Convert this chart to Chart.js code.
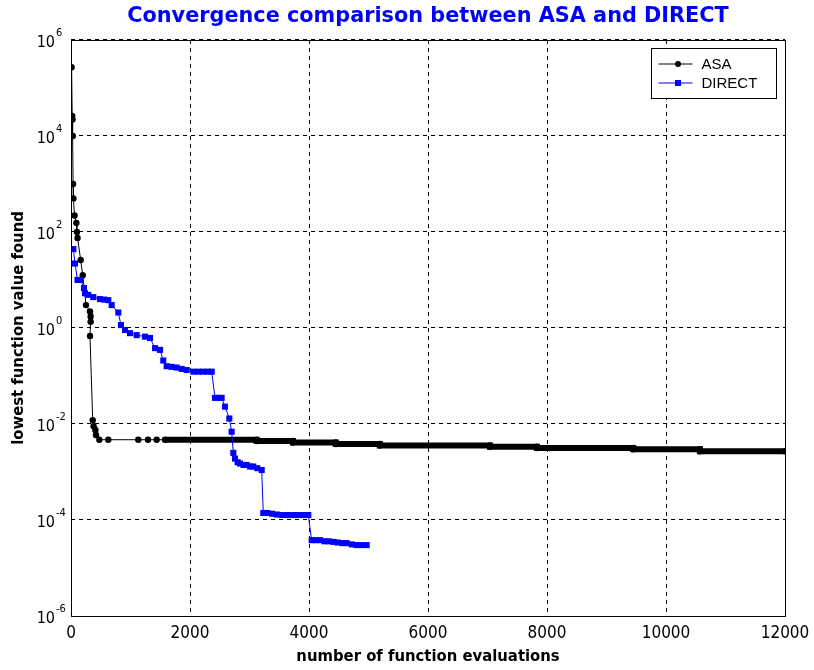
<!DOCTYPE html>
<html>
<head>
<meta charset="utf-8">
<title>Convergence comparison between ASA and DIRECT</title>
<script src="https://cdn.jsdelivr.net/npm/chart.js@4.4.1/dist/chart.umd.min.js"></script>
<style>
  html, body { margin: 0; padding: 0; background: #fff; }
  canvas { display: block; }
</style>
</head>
<body>
<canvas id="convergence-chart" width="814" height="670"></canvas>
<script>
const NARROW = "'DejaVu Sans Condensed', 'Liberation Sans', sans-serif";
const SANS = "'Liberation Sans', Arial, sans-serif";
const WIDE = "'DejaVu Sans', Verdana, sans-serif";

// ASA: evaluations vs lowest value found
const asaEvals = [10, 20, 25, 30, 35, 40, 60, 90, 100, 110, 163, 197, 252, 319, 330, 330, 319,
  365, 380, 410, 420, 476, 627, 1131, 1294, 1440, 1580, 3120, 3120, 3730, 3730, 4450, 4450,
  5190, 5190, 7040, 7040, 7830, 7830, 9450, 9450, 10570, 10570, 12000];
const asaValues = [2.7e5, 2.6e4, 2.2e4, 1.0e4, 1000, 500, 220, 155, 100, 75, 26, 12.6, 3.0, 2.2, 1.74, 1.35, 0.68,
  0.012, 0.009, 0.0075, 0.0059, 0.0047, 0.0047, 0.0047, 0.0047, 0.0047, 0.0047, 0.0047, 0.00443, 0.00443, 0.00412, 0.00412, 0.00383,
  0.00383, 0.00356, 0.00356, 0.00336, 0.00336, 0.00316, 0.00316, 0.00297, 0.00297, 0.0027, 0.0027];

// DIRECT: evaluations vs lowest value found
const directEvals = [40, 67, 110, 160, 218, 235, 290, 375, 487, 560, 627, 684, 795, 840, 908, 992, 1104,
  1244, 1328, 1412, 1496, 1551, 1608, 1690, 1776, 1860, 1944, 2056, 2140, 2220, 2300, 2365,
  2420, 2480, 2532, 2588, 2661, 2700, 2728, 2756, 2800, 2840, 2900, 2952, 3010, 3064, 3130, 3205,
  3232, 3300, 3380, 3460, 3540, 3625, 3700, 3780, 3860, 3930, 3988,
  4045, 4110, 4185, 4260, 4330, 4409, 4480, 4560, 4633, 4720, 4800, 4880, 4969];
const directValues = [44, 22, 10, 10, 6.8, 5.3, 4.9, 4.4, 4.0, 3.9, 3.8, 3.0, 2.1, 1.15, 0.91, 0.78, 0.71,
  0.66, 0.62, 0.38, 0.35, 0.21, 0.16, 0.155, 0.15, 0.14, 0.133, 0.123, 0.123, 0.123, 0.123, 0.123,
  0.035, 0.035, 0.035, 0.023, 0.013, 0.0069, 0.0025, 0.0019, 0.0016, 0.0015, 0.0014, 0.0014, 0.0013, 0.0013, 0.0012, 0.0011,
  1.4e-4, 1.4e-4, 1.35e-4, 1.3e-4, 1.27e-4, 1.27e-4, 1.27e-4, 1.27e-4, 1.27e-4, 1.27e-4, 1.27e-4,
  3.8e-5, 3.8e-5, 3.8e-5, 3.6e-5, 3.6e-5, 3.5e-5, 3.4e-5, 3.3e-5, 3.3e-5, 3.1e-5, 3.0e-5, 3.0e-5, 3.0e-5];

const xTickStep = 2000;
const yTicks = [1e-6, 1e-4, 1e-2, 1, 1e2, 1e4, 1e6];

const toPoints = (xs, ys) => xs.map((x, i) => ({ x: x, y: ys[i] }));

// box around the axes, power-of-ten labels and the boxed legend
const axesDecor = {
  id: 'axesDecor',
  afterDraw(chart) {
    const { ctx, chartArea: a, scales } = chart;
    ctx.save();
    ctx.strokeStyle = '#000';
    ctx.lineWidth = 1;
    ctx.setLineDash([]);
    ctx.strokeRect(Math.round(a.left) + 0.5, Math.round(a.top) + 0.5,
      Math.round(a.right - a.left), Math.round(a.bottom - a.top));

    // y tick labels as 10 with a raised exponent
    ctx.fillStyle = '#000';
    yTicks.forEach(v => {
      const y = scales.y.getPixelForValue(v);
      const e = Math.round(Math.log10(v));
      ctx.font = '16px ' + NARROW;
      ctx.textAlign = 'right';
      ctx.textBaseline = 'middle';
      ctx.fillText('10', a.left - 16, y + 3);
      ctx.font = '11px ' + NARROW;
      ctx.textAlign = 'left';
      ctx.fillText(String(e), a.left - 15, y - 7);
    });

    // legend
    const bx = Math.round(a.right) - 133.5, by = Math.round(a.top) + 8.5;
    ctx.fillStyle = '#fff';
    ctx.fillRect(bx, by, 125, 50);
    ctx.strokeStyle = '#000';
    ctx.strokeRect(bx, by, 125, 50);
    chart.data.datasets.forEach((ds, i) => {
      const ry = by + 15.5 + i * 19;
      ctx.strokeStyle = ds.borderColor;
      ctx.lineWidth = 1;
      ctx.beginPath();
      ctx.moveTo(bx + 7, ry);
      ctx.lineTo(bx + 41, ry);
      ctx.stroke();
      ctx.fillStyle = ds.borderColor;
      if (ds.pointStyle === 'rect') {
        ctx.fillRect(bx + 23.5, ry - 3, 6, 6);
      } else {
        ctx.beginPath();
        ctx.arc(bx + 26.5, ry, 3, 0, Math.PI * 2);
        ctx.fill();
      }
      ctx.fillStyle = '#000';
      ctx.font = '15px ' + SANS;
      ctx.textAlign = 'left';
      ctx.textBaseline = 'middle';
      ctx.fillText(ds.label, bx + 50, ry + 1);
    });
    ctx.restore();
  }
};

new Chart(document.getElementById('convergence-chart'), {
  type: 'line',
  data: {
    datasets: [
      {
        label: 'ASA',
        data: toPoints(asaEvals, asaValues),
        borderColor: '#000',
        backgroundColor: '#000',
        borderWidth: 1,
        pointStyle: 'circle',
        pointRadius: 3.2,
        pointBorderWidth: 0,
        order: 2,
        segment: {
          // markers are packed so tightly past ~1600 evaluations they merge into a band
          borderWidth: c => (c.p0.parsed.x >= 1580 ? 6 : 1)
        }
      },
      {
        label: 'DIRECT',
        data: toPoints(directEvals, directValues),
        borderColor: '#0000ff',
        backgroundColor: '#0000ff',
        borderWidth: 1,
        pointStyle: 'rect',
        pointRadius: 4.3,
        pointBorderWidth: 0,
        order: 1
      }
    ]
  },
  options: {
    responsive: false,
    animation: false,
    devicePixelRatio: 1,
    layout: { padding: { left: 0, right: 29, top: 0, bottom: 0 } },
    plugins: {
      legend: { display: false },
      tooltip: { enabled: false },
      title: {
        display: true,
        fullSize: false,
        text: 'Convergence comparison between ASA and DIRECT',
        color: '#0000ff',
        font: { family: WIDE, size: 20.8, weight: 'bold' },
        padding: { top: 4, bottom: 11 }
      }
    },
    scales: {
      x: {
        type: 'linear',
        min: 0,
        max: 12000,
        ticks: {
          stepSize: xTickStep,
          color: '#000',
          padding: 7,
          font: { family: NARROW, size: 17 },
          callback: v => String(v)
        },
        grid: { color: '#000', lineWidth: 1, drawTicks: false },
        border: { display: false, dash: [4, 4] },
        title: {
          display: true,
          text: 'number of function evaluations',
          color: '#000',
          font: { family: NARROW, size: 16.5, weight: 'bold' },
          padding: { top: 0, bottom: 3 }
        },
        afterFit: s => { s.height = 54; s.paddingRight = 0; s.paddingLeft = 0; }
      },
      y: {
        type: 'logarithmic',
        min: 1e-6,
        max: 1e6,
        afterBuildTicks: s => { s.ticks = yTicks.map(v => ({ value: v })); },
        ticks: { display: false },
        grid: { color: '#000', lineWidth: 1, drawTicks: false },
        border: { display: false, dash: [4, 4] },
        title: {
          display: true,
          text: 'lowest function value found',
          color: '#000',
          font: { family: NARROW, size: 16.5, weight: 'bold' },
          padding: { top: 9, bottom: 0 }
        },
        afterFit: s => { s.width = 71; }
      }
    }
  },
  plugins: [axesDecor]
});
</script>
</body>
</html>
